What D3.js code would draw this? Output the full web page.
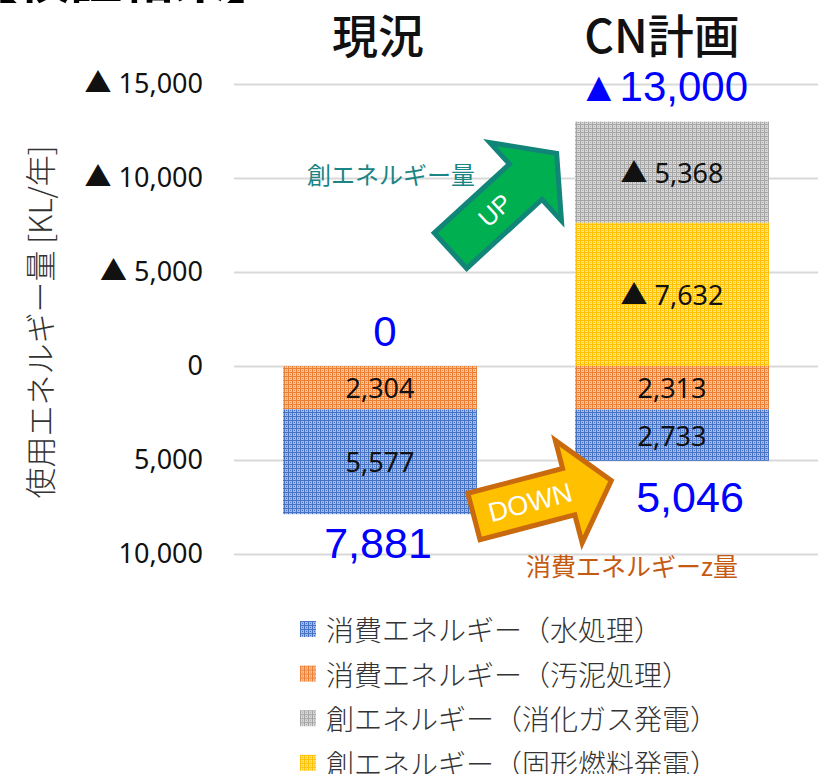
<!DOCTYPE html>
<html>
<head>
<meta charset="utf-8">
<script src="https://cdn.jsdelivr.net/npm/d3@7"></script>
<style>
  body { margin: 0; background: #fff; }
  svg { display: block; }
  text { font-family: "Noto Sans", "Noto Sans CJK JP", sans-serif; }
  .jp { font-family: "Noto Sans CJK JP", sans-serif; }
  .num { font-family: "Liberation Sans", Arial, "Noto Sans CJK JP", sans-serif; }
</style>
</head>
<body>
<svg id="chart"></svg>
<script>
// categories and series (consumption drawn below zero, creation above)
const categories = ['現況', 'CN計画'];
const waterUse  = [5577, 2733];   // 消費エネルギー（水処理）
const sludgeUse = [2304, 2313];   // 消費エネルギー（汚泥処理）
const gasGen    = [0, 5368];      // 創エネルギー（消化ガス発電）
const fuelGen   = [0, 7632];      // 創エネルギー（固形燃料発電）
const createTotal = [0, 13000];
const useTotal    = [7881, 5046];
const tickValues  = [-10000, -5000, 0, 5000, 10000, 15000];

const seriesKeys = ['sludge', 'water', 'fuel', 'gas'];
const legendItems = [
  { key: 'water',  label: '消費エネルギー（水処理）' },
  { key: 'sludge', label: '消費エネルギー（汚泥処理）' },
  { key: 'gas',    label: '創エネルギー（消化ガス発電）' },
  { key: 'fuel',   label: '創エネルギー（固形燃料発電）' }
];

const colors = {
  water:  { dark: '#4472C4', light: '#A6B8E6' },
  sludge: { dark: '#ED7D31', light: '#F9C3A0' },
  gas:    { dark: '#A5A5A5', light: '#D8D8D8' },
  fuel:   { dark: '#FFC000', light: '#FFE084' }
};

const width = 820, height = 774;
const fmt = d3.format(',');

const svg = d3.select('#chart')
  .attr('width', width)
  .attr('height', height);

// dotted pattern fills like the Excel texture
const defs = svg.append('defs');
Object.keys(colors).forEach(k => {
  const p = defs.append('pattern')
    .attr('id', 'pat-' + k)
    .attr('patternUnits', 'userSpaceOnUse')
    .attr('width', 4).attr('height', 4);
  p.append('rect').attr('width', 4).attr('height', 4).attr('fill', colors[k].dark);
  p.append('rect').attr('x', 1).attr('y', 1).attr('width', 3).attr('height', 3).attr('fill', colors[k].light);
  p.append('rect').attr('x', 2).attr('y', 2).attr('width', 1).attr('height', 1).attr('fill', colors[k].dark);
});

const data = categories.map((c, i) => ({
  cat: c,
  sludge: -sludgeUse[i],
  water: -waterUse[i],
  fuel: fuelGen[i],
  gas: gasGen[i]
}));

const xScale = d3.scaleBand()
  .domain(categories)
  .range([234, 818])
  .paddingInner(0.336)
  .paddingOuter(0.168);

const yScale = d3.scaleLinear()
  .domain([-10000, 15000])
  .range([554, 84]);

// gridlines
svg.append('g')
  .attr('class', 'grid')
  .attr('transform', 'translate(234,0)')
  .call(d3.axisRight(yScale).tickValues(tickValues).tickSize(584).tickFormat(''))
  .call(g => g.select('.domain').remove())
  .call(g => g.selectAll('line').attr('stroke', '#d9d9d9').attr('stroke-width', 2));

// y axis labels
svg.append('g')
  .attr('transform', 'translate(234,0)')
  .call(d3.axisLeft(yScale).tickValues(tickValues).tickSize(0).tickPadding(31)
    .tickFormat(v => v > 0 ? '▲ ' + fmt(v) : fmt(Math.abs(v))))
  .call(g => g.select('.domain').remove())
  .call(g => g.selectAll('text')
    .attr('font-size', 27)
    .attr('fill', '#111')
    .style('font-family', '"Noto Sans", "Noto Sans CJK JP", sans-serif'));

// y axis title
svg.append('text')
  .attr('class', 'jp')
  .attr('transform', 'translate(38,322) rotate(-90)')
  .attr('text-anchor', 'middle')
  .attr('dominant-baseline', 'central')
  .attr('font-size', 31)
  .attr('font-weight', 300)
  .attr('fill', '#333')
  .text('使用エネルギー量 [KL/年]');

// stacked bars
const stack = d3.stack().keys(seriesKeys).offset(d3.stackOffsetDiverging);
const stacked = stack(data);

const layers = svg.append('g').selectAll('g.layer')
  .data(stacked)
  .join('g')
    .attr('class', 'layer')
    .attr('fill', d => `url(#pat-${d.key})`);

layers.selectAll('rect')
  .data(d => d.filter(s => s[1] !== s[0]))
  .join('rect')
    .attr('x', d => xScale(d.data.cat))
    .attr('y', d => yScale(Math.max(d[0], d[1])))
    .attr('width', xScale.bandwidth())
    .attr('height', d => Math.abs(yScale(d[0]) - yScale(d[1])));

// segment labels
layers.selectAll('text')
  .data(d => d.filter(s => s[1] !== s[0]).map(s => ({ s, key: d.key })))
  .join('text')
    .attr('x', d => xScale(d.s.data.cat) + xScale.bandwidth() / 2)
    .attr('y', d => yScale((d.s[0] + d.s[1]) / 2))
    .attr('text-anchor', 'middle')
    .attr('dominant-baseline', 'central')
    .attr('font-size', 27)
    .attr('fill', '#111')
    .text(d => {
      const v = d.s.data[d.key];
      return v > 0 ? '▲ ' + fmt(v) : fmt(Math.abs(v));
    });

// category titles on top
svg.append('g').selectAll('text')
  .data(categories)
  .join('text')
    .attr('class', 'jp')
    .attr('x', (d, i) => xScale(d) + xScale.bandwidth() / 2 - (i === 1 ? 10 : 2))
    .attr('y', 33)
    .attr('text-anchor', 'middle')
    .attr('dominant-baseline', 'central')
    .attr('font-size', 46)
    .attr('font-weight', 500)
    .attr('fill', '#111')
    .text(d => d);

// totals in blue
svg.append('g').selectAll('text')
  .data(createTotal)
  .join('text')
    .attr('class', 'num')
    .attr('x', (d, i) => xScale(categories[i]) + xScale.bandwidth() / 2 + (i === 1 ? -9 : 5))
    .attr('y', (d, i) => yScale(fuelGen[i] + gasGen[i]) - 35)
    .attr('text-anchor', 'middle')
    .attr('dominant-baseline', 'central')
    .attr('font-size', 42)
    .attr('fill', '#0000ff')
    .text(d => d > 0 ? '▲' + fmt(d) : '0');

svg.append('g').selectAll('text')
  .data(useTotal)
  .join('text')
    .attr('class', 'num')
    .attr('x', (d, i) => xScale(categories[i]) + xScale.bandwidth() / 2 + (i === 1 ? 18 : -2))
    .attr('y', (d, i) => yScale(-d) + (i === 1 ? 36 : 29))
    .attr('text-anchor', 'middle')
    .attr('dominant-baseline', 'central')
    .attr('font-size', 43)
    .attr('fill', '#0000ff')
    .text(d => fmt(d));

// block arrows (annotation shapes)
function arrowPath(len, shaftHW, headHW, headLen) {
  const hs = len - headLen;
  return `M2,${-shaftHW}L${hs},${-shaftHW}L${hs},${-headHW}L${len},0L${hs},${headHW}L${hs},${shaftHW}L2,${shaftHW}Z`;
}

const up = svg.append('g').attr('transform', 'translate(449,252) rotate(-42.5)');
up.append('path')
  .attr('d', arrowPath(146, 24, 53, 42))
  .attr('fill', '#00B050')
  .attr('stroke', '#118577')
  .attr('stroke-width', 5)
  .attr('stroke-linejoin', 'miter');
up.append('text')
  .attr('class', 'num')
  .attr('x', 62).attr('y', 0)
  .attr('text-anchor', 'middle')
  .attr('dominant-baseline', 'central')
  .attr('font-size', 25)
  .attr('fill', '#fff')
  .text('UP');

const down = svg.append('g').attr('transform', 'translate(472,517) rotate(-14.7)');
down.append('path')
  .attr('d', arrowPath(144, 24, 53, 44))
  .attr('fill', '#FFC000')
  .attr('stroke', '#C96A0E')
  .attr('stroke-width', 5)
  .attr('stroke-linejoin', 'miter');
down.append('text')
  .attr('class', 'num')
  .attr('x', 60).attr('y', 1)
  .attr('text-anchor', 'middle')
  .attr('dominant-baseline', 'central')
  .attr('font-size', 27)
  .attr('fill', '#fff')
  .text('DOWN');

// annotation labels
svg.append('text')
  .attr('class', 'jp')
  .attr('x', 391).attr('y', 173)
  .attr('text-anchor', 'middle')
  .attr('dominant-baseline', 'central')
  .attr('font-size', 24)
  .attr('fill', '#1B8484')
  .text('創エネルギー量');

svg.append('text')
  .attr('class', 'jp')
  .attr('x', 632).attr('y', 565)
  .attr('text-anchor', 'middle')
  .attr('dominant-baseline', 'central')
  .attr('font-size', 25)
  .attr('fill', '#C55A11')
  .text('消費エネルギーz量');

// cut-off heading at the very top
svg.append('text')
  .attr('class', 'jp')
  .attr('x', -34).attr('y', -2)
  .attr('font-size', 52)
  .attr('font-weight', 'bold')
  .attr('fill', '#000')
  .text('【検証結果】');

// legend
const legend = svg.append('g').selectAll('g')
  .data(legendItems)
  .join('g')
    .attr('transform', (d, i) => `translate(300,${629 + i * 44.6})`);
legend.append('rect')
  .attr('x', 0).attr('y', -8)
  .attr('width', 16).attr('height', 16)
  .attr('fill', d => `url(#pat-${d.key})`);
legend.append('text')
  .attr('class', 'jp')
  .attr('x', 26).attr('y', 0)
  .attr('dominant-baseline', 'central')
  .attr('font-size', 28)
  .attr('font-weight', 300)
  .attr('fill', '#333')
  .text(d => d.label);
</script>
</body>
</html>
